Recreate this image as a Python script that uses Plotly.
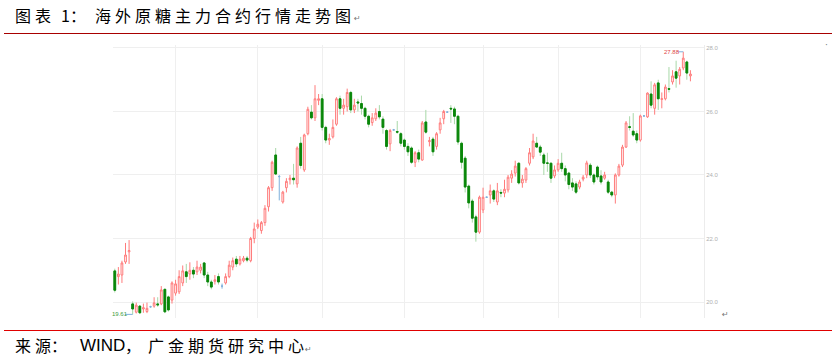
import plotly.graph_objects as go

# ---------------- data ----------------
opens = [20.98, 20.80, 20.85, 21.26, 21.58, 19.94, 19.68, 19.87, 19.78, 19.70,
         19.85, 19.87, 19.94, 19.94, 20.40, 20.16, 20.06, 20.28, 20.32, 20.60,
         20.95, 20.88, 21.00, 20.95, 21.00, 21.23, 20.85, 20.63, 20.65, 20.80,
         20.50, 20.60, 20.80, 21.10, 21.35, 21.20, 21.30, 21.38, 21.30, 22.00,
         22.36, 22.25, 22.50, 23.00, 23.60, 24.63, 23.95, 23.15, 23.60, 23.85,
         23.90, 23.72, 25.00, 24.16, 25.30, 25.98, 25.80, 26.35, 26.40, 25.50,
         25.10, 25.20, 25.60, 26.40, 26.10, 26.15, 26.60, 26.05, 26.30, 26.25,
         26.10, 25.85, 25.65, 25.77, 26.00, 25.76, 25.40, 24.98, 25.42, 25.37,
         25.30, 25.10, 24.90, 24.85, 24.40, 24.70, 24.47, 25.67, 25.05, 25.13,
         24.90, 25.42, 25.77, 25.98, 26.10, 26.08, 25.85, 25.00, 24.53, 23.65,
         23.18, 22.68, 22.20, 22.90, 23.30, 23.37, 23.50, 23.15, 23.45, 23.43,
         23.53, 23.90, 24.06, 24.37, 23.75, 23.84, 24.37, 24.57, 25.00, 24.88,
         24.63, 24.38, 24.37, 23.97, 24.16, 24.37, 24.20, 24.06, 23.75, 23.72,
         23.62, 23.87, 24.00, 24.31, 24.00, 24.25, 23.97, 23.90, 23.78, 23.46,
         23.37, 24.00, 24.31, 24.88, 25.52, 25.38, 25.30, 25.10, 25.86, 25.83,
         26.55, 26.10, 26.90, 26.38, 26.40, 26.72, 26.93, 27.25, 27.12, 27.37,
         27.56, 27.12]
highs = [21.05, 21.10, 21.30, 21.86, 21.95, 20.02, 19.98, 19.90, 19.95, 19.98,
         19.88, 20.15, 20.15, 20.50, 20.42, 20.20, 20.65, 20.70, 21.00, 21.15,
         21.20, 21.25, 21.10, 21.30, 21.20, 21.25, 20.95, 20.70, 20.85, 20.90,
         20.58, 20.90, 21.30, 21.40, 21.45, 21.45, 21.45, 21.45, 22.05, 22.50,
         22.60, 22.55, 23.05, 23.65, 24.45, 24.85, 24.00, 23.50, 23.90, 24.00,
         24.35, 24.90, 25.20, 25.30, 26.15, 26.20, 26.83, 26.55, 26.55, 25.55,
         25.30, 25.75, 26.45, 26.50, 26.40, 26.72, 26.65, 26.40, 26.40, 26.50,
         26.15, 25.90, 25.95, 26.10, 26.20, 25.85, 25.45, 25.45, 25.45, 25.70,
         25.35, 25.15, 25.00, 24.90, 24.75, 24.80, 25.70, 26.05, 25.20, 25.20,
         25.35, 25.80, 26.05, 26.00, 26.20, 26.15, 25.90, 25.05, 24.60, 23.70,
         23.25, 22.75, 23.35, 23.60, 23.32, 23.70, 23.55, 23.75, 23.55, 23.85,
         24.00, 24.15, 24.45, 24.40, 24.00, 24.25, 24.85, 25.30, 25.20, 24.95,
         24.70, 24.70, 24.40, 24.30, 24.50, 24.70, 24.30, 24.10, 23.90, 23.80,
         23.85, 24.00, 24.45, 24.38, 24.05, 24.30, 24.15, 24.10, 23.85, 23.50,
         24.05, 24.35, 24.95, 25.70, 25.85, 25.95, 25.40, 25.90, 25.88, 26.60,
         26.95, 26.90, 27.00, 26.60, 26.85, 27.40, 27.30, 27.60, 27.40, 27.88,
         27.60, 27.30]
lows = [20.30, 20.55, 20.60, 21.20, 21.20, 19.61, 19.64, 19.62, 19.66, 19.65,
        19.82, 19.82, 19.85, 19.90, 19.65, 19.70, 19.95, 20.20, 20.25, 20.50,
        20.60, 20.70, 20.75, 20.85, 20.90, 20.75, 20.50, 20.40, 20.55, 20.55,
        20.42, 20.55, 20.75, 21.00, 21.10, 21.15, 21.25, 21.25, 21.25, 21.85,
        22.30, 22.15, 22.40, 22.85, 23.50, 24.00, 23.20, 23.10, 23.45, 23.70,
        23.70, 23.60, 24.20, 24.10, 25.25, 25.75, 25.70, 26.20, 25.40, 25.00,
        24.95, 25.15, 25.55, 25.90, 25.90, 26.00, 25.95, 25.95, 26.00, 25.90,
        25.75, 25.50, 25.55, 25.70, 25.75, 25.30, 24.80, 24.75, 25.40, 25.30,
        24.90, 24.80, 24.60, 24.35, 24.25, 24.40, 24.45, 25.30, 24.90, 24.60,
        24.80, 25.30, 25.60, 25.96, 25.64, 25.60, 24.95, 24.20, 23.45, 22.95,
        22.50, 21.90, 22.15, 22.80, 23.28, 23.10, 23.15, 23.05, 23.30, 23.30,
        23.45, 23.75, 23.95, 23.70, 23.60, 23.75, 24.30, 24.50, 24.85, 24.60,
        24.00, 24.10, 23.75, 23.90, 24.10, 24.10, 23.80, 23.55, 23.50, 23.40,
        23.55, 23.80, 23.90, 23.90, 23.70, 23.85, 23.70, 23.85, 23.40, 23.30,
        23.10, 23.95, 24.25, 24.85, 25.40, 25.20, 25.00, 25.05, 25.84, 25.80,
        26.10, 25.90, 26.05, 26.10, 26.35, 26.60, 26.85, 26.75, 26.85, 27.30,
        27.00, 26.95]
closes = [20.37, 20.88, 21.23, 21.48, 21.62, 19.78, 19.90, 19.66, 19.82, 19.80,
          19.85, 19.97, 19.91, 20.38, 19.69, 19.75, 20.60, 20.57, 20.80, 20.98,
          20.80, 21.00, 20.88, 21.10, 21.10, 20.85, 20.63, 20.47, 20.70, 20.63,
          20.50, 20.80, 21.16, 21.30, 21.20, 21.35, 21.38, 21.32, 22.00, 22.30,
          22.45, 22.50, 22.95, 23.60, 24.40, 24.03, 23.95, 23.46, 23.80, 23.90,
          23.85, 24.85, 24.30, 25.26, 26.07, 25.80, 26.40, 26.40, 25.50, 25.10,
          25.15, 25.50, 26.40, 26.10, 26.20, 26.60, 26.05, 26.20, 26.27, 26.10,
          25.85, 25.60, 25.80, 25.95, 25.83, 25.50, 24.90, 25.40, 25.42, 25.35,
          25.00, 24.90, 24.73, 24.40, 24.70, 24.50, 25.64, 25.35, 25.08, 24.73,
          25.30, 25.64, 26.00, 25.98, 26.08, 25.85, 25.04, 24.40, 23.62, 23.12,
          22.64, 22.20, 23.30, 23.30, 23.30, 23.50, 23.24, 23.50, 23.43, 23.55,
          23.93, 24.03, 24.28, 23.75, 23.87, 24.20, 24.70, 25.07, 24.88, 24.72,
          24.37, 24.37, 23.90, 24.16, 24.37, 24.20, 24.00, 23.70, 23.62, 23.46,
          23.78, 23.93, 24.38, 24.00, 23.78, 23.94, 23.78, 24.00, 23.46, 23.37,
          24.00, 24.28, 24.88, 25.64, 25.50, 25.26, 25.10, 25.86, 25.86, 26.58,
          26.20, 26.84, 26.40, 26.40, 26.77, 26.70, 27.12, 27.05, 27.33, 27.68,
          27.21, 27.18]

grid_x = [-0.5, 17, 40, 58, 81, 103, 124, 147]   # vertical gridlines (period starts)
y_ticks = [20.0, 22.0, 24.0, 26.0, 28.0]
y_labels = ["20.0", "22.0", "24.0", "26.0", "28.0"]
max_value, max_index = 27.88, 159
min_value, min_index = 19.61, 5

title_head = ["图", "表", "1", "："]
title_tail = "海外原糖主力合约行情走势图"
source_head = ["来", "源", "："]
source_word = "WIND"
source_comma = "，"
source_tail = "广金期货研究中心"

# ---------------- figure ----------------
x = list(range(len(opens)))
flat = [i for i in x if opens[i] == closes[i]]
moving = [i for i in x if opens[i] != closes[i]]
down = [i for i in x if closes[i] < opens[i]]

RED_LINE = "#ff7b7b"
GREEN_WICK = "#a8d8a8"
GREEN_BODY = "#0a870a"
BLUE = "#7fb0dc"

fig = go.Figure()

# candles with wicks (red hollow up, green down with light wick)
fig.add_trace(go.Candlestick(
    x=[x[i] for i in moving],
    open=[opens[i] for i in moving], high=[highs[i] for i in moving],
    low=[lows[i] for i in moving], close=[closes[i] for i in moving],
    increasing=dict(line=dict(color=RED_LINE, width=1), fillcolor="white"),
    decreasing=dict(line=dict(color=GREEN_WICK, width=1), fillcolor=GREEN_BODY),
    whiskerwidth=0, showlegend=False, hoverinfo="skip"))

# solid dark bodies for down candles
fig.add_trace(go.Candlestick(
    x=[x[i] for i in down],
    open=[opens[i] for i in down], high=[opens[i] for i in down],
    low=[closes[i] for i in down], close=[closes[i] for i in down],
    increasing=dict(line=dict(color=GREEN_BODY, width=1), fillcolor=GREEN_BODY),
    decreasing=dict(line=dict(color=GREEN_BODY, width=1), fillcolor=GREEN_BODY),
    whiskerwidth=0, showlegend=False, hoverinfo="skip"))

# unchanged (doji) candles in blue
fig.add_trace(go.Candlestick(
    x=[x[i] for i in flat],
    open=[opens[i] for i in flat], high=[highs[i] for i in flat],
    low=[lows[i] for i in flat], close=[closes[i] for i in flat],
    increasing=dict(line=dict(color=BLUE, width=1), fillcolor=BLUE),
    decreasing=dict(line=dict(color=BLUE, width=1), fillcolor=BLUE),
    whiskerwidth=0, showlegend=False, hoverinfo="skip"))

# plot area in pixels
L, R, T, B = 113, 704, 45, 318
W, H = 832, 358


def px(v):
    return (v - L) / (R - L)


def py(v):
    return (B - v) / (B - T)


annotations = []
shapes = []


def char(text, xc, yc, size, color="#000000", family="Noto Sans CJK SC"):
    annotations.append(dict(text=text, x=px(xc), y=py(yc), xref="paper", yref="paper",
                            xanchor="center", yanchor="middle", showarrow=False,
                            font=dict(size=size, color=color, family=family)))


# title
for ch, xc in zip(title_head, [22.5, 42.5, 65, 78]):
    char(ch, xc, 15, 16)
for k, ch in enumerate(title_tail):
    char(ch, 102.5 + 20 * k, 15, 16)
char("↵", 357, 19, 8, "#777777", "DejaVu Sans")

# source
for ch, xc in zip(source_head, [23.3, 42.5, 59]):
    char(ch, xc, 345, 16)
char(source_word, 102.5, 345, 17, "#000000", "Liberation Sans")
char(source_comma, 133, 345, 16)
for k, ch in enumerate(source_tail):
    char(ch, 155.8 + 20 * k, 345, 16)
char("↵", 308, 349, 8, "#777777", "DejaVu Sans")

# stray marks
char("↵", 725, 314, 8, "#777777", "DejaVu Sans")
char("·", 826, 45, 9, "#777777", "DejaVu Sans")

# header / footer rules
shapes.append(dict(type="line", xref="paper", yref="paper", x0=px(4), x1=px(832),
                   y0=py(33.5), y1=py(33.5), line=dict(color="#a80000", width=1)))
shapes.append(dict(type="line", xref="paper", yref="paper", x0=px(4), x1=px(832),
                   y0=py(330.5), y1=py(330.5), line=dict(color="#e00000", width=1)))

# max / min markers
annotations.append(dict(text=f"{max_value:.2f}", x=max_index - 3.2, y=max_value, xref="x", yref="y",
                        xanchor="center", yanchor="middle", showarrow=False,
                        font=dict(size=6, color="#e04848", family="Liberation Sans")))
shapes.append(dict(type="line", xref="x", yref="y", x0=max_index - 1.6, x1=max_index,
                   y0=max_value, y1=max_value, line=dict(color=BLUE, width=1)))
annotations.append(dict(text=f"{min_value:.2f}", x=min_index - 3.6, y=min_value, xref="x", yref="y",
                        xanchor="center", yanchor="middle", showarrow=False,
                        font=dict(size=6, color="#3c9c3c", family="Liberation Sans")))
shapes.append(dict(type="line", xref="x", yref="y", x0=min_index - 2.2, x1=min_index,
                   y0=min_value, y1=min_value, line=dict(color=BLUE, width=1)))

fig.update_layout(
    width=W, height=H,
    margin=dict(l=L, r=W - R, t=T, b=H - B, pad=0),
    paper_bgcolor="white", plot_bgcolor="white",
    showlegend=False,
    annotations=annotations, shapes=shapes,
    xaxis=dict(range=[-0.5, 164.8], rangeslider=dict(visible=False),
               tickvals=grid_x, showticklabels=False, ticks="",
               showgrid=True, gridcolor="#efefef", gridwidth=1,
               zeroline=False, showline=False, fixedrange=True),
    yaxis=dict(side="right", range=[19.496, 28.094], tickvals=y_ticks, ticktext=y_labels,
               showgrid=True, gridcolor="#efefef", gridwidth=1,
               zeroline=False, showline=True, linecolor="#ececec", linewidth=1,
               ticks="", ticklen=0,
               tickfont=dict(size=6, color="#b0b0b0", family="Liberation Sans"),
               fixedrange=True),
)

fig.write_html("out.html")
